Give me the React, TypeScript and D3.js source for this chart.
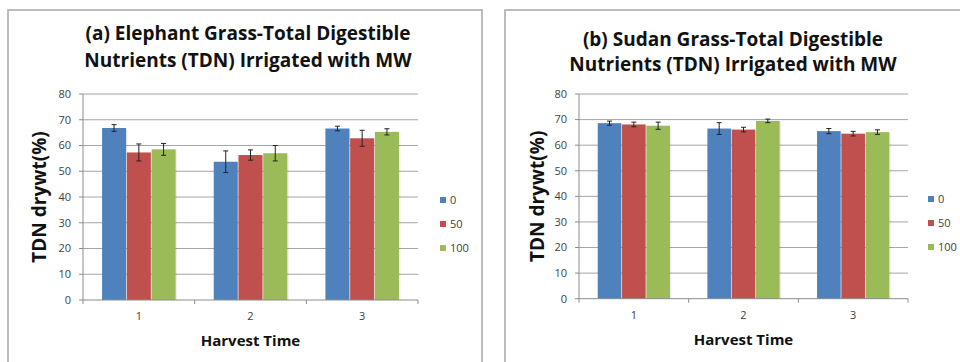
import React from "react";
import * as d3 from "d3";

const harvests = ["1", "2", "3"];
const treatments = ["0", "50", "100"];
const yTicks = [0, 10, 20, 30, 40, 50, 60, 70, 80];
const colors = ["#4F81BD", "#C0504D", "#9BBB59"];

// means per treatment (0, 50, 100) for harvests 1..3
const elephantMean = [
  [66.8, 53.7, 66.6],
  [57.3, 56.3, 62.8],
  [58.5, 57.0, 65.3],
];
const elephantErr = [
  [1.3, 4.2, 0.9],
  [3.3, 2.0, 3.1],
  [2.3, 3.0, 1.2],
];
const sudanMean = [
  [68.6, 66.5, 65.5],
  [68.1, 66.1, 64.5],
  [67.6, 69.5, 65.1],
];
const sudanErr = [
  [0.8, 2.3, 1.0],
  [0.9, 0.9, 0.9],
  [1.4, 0.7, 0.9],
];

const FONT = "'Open Sans', sans-serif";

type PanelProps = {
  frame: [number, number, number];
  plot: { x0: number; x1: number; y0: number; y1: number };
  title: [string, string];
  titleX: number;
  titleY: [number, number];
  yLabelX: number;
  legendX: number;
  legendY: number;
  means: number[][];
  errs: number[][];
};

const Panel = ({ frame, plot, title, titleX, titleY, yLabelX, legendX, legendY, means, errs }: PanelProps) => {
  const x = d3.scaleBand().domain(harvests).range([plot.x0, plot.x1]).paddingInner(0).paddingOuter(0);
  const inner = d3.scaleBand().domain(treatments).range([0, x.bandwidth()]).paddingOuter(0.77).paddingInner(0.03);
  const y = d3.scaleLinear().domain([0, 80]).range([plot.y1, plot.y0]);
  const cap = 2.5;

  return (
    <g>
      <rect x={frame[0]} y={10} width={frame[1] - frame[0]} height={frame[2]} fill="#fff" stroke="#a6a6a6" strokeWidth={1.5} />
      <text x={titleX} y={titleY[0]} textAnchor="middle" fontFamily={FONT} fontWeight="bold" fontSize={19} fill="#111">
        {title[0]}
      </text>
      <text x={titleX} y={titleY[1]} textAnchor="middle" fontFamily={FONT} fontWeight="bold" fontSize={19} fill="#111">
        {title[1]}
      </text>
      {yTicks.map((t) => (
        <g key={t}>
          {t > 0 && <line x1={plot.x0} x2={plot.x1} y1={y(t)} y2={y(t)} stroke="#a6a6a6" strokeWidth={1} />}
          <line x1={plot.x0 - 4} x2={plot.x0} y1={y(t)} y2={y(t)} stroke="#8c8c8c" strokeWidth={1} />
          <text x={plot.x0 - 12} y={y(t)} dy="0.35em" textAnchor="end" fontFamily={FONT} fontSize={11} fill="#404040">
            {t}
          </text>
        </g>
      ))}
      {harvests.map((h, i) => (
        <g key={h}>
          {treatments.map((tr, s) => {
            const v = means[s][i];
            const e = errs[s][i];
            const bx = (x(h) as number) + (inner(tr) as number);
            const cx = bx + inner.bandwidth() / 2;
            return (
              <g key={tr}>
                <rect x={bx + 1.5} y={y(v) + 1} width={inner.bandwidth()} height={y(0) - y(v) - 1} fill="#000" opacity={0.07} />
                <rect x={bx} y={y(v)} width={inner.bandwidth()} height={y(0) - y(v)} fill={colors[s]} />
                <line x1={cx} x2={cx} y1={y(v + e)} y2={y(v - e)} stroke="#222" strokeWidth={1} />
                <line x1={cx - cap} x2={cx + cap} y1={y(v + e)} y2={y(v + e)} stroke="#222" strokeWidth={1} />
                <line x1={cx - cap} x2={cx + cap} y1={y(v - e)} y2={y(v - e)} stroke="#222" strokeWidth={1} />
              </g>
            );
          })}
          <text x={(x(h) as number) + x.bandwidth() / 2} y={plot.y1 + 20} textAnchor="middle" fontFamily={FONT} fontSize={11} fill="#404040">
            {h}
          </text>
        </g>
      ))}
      <line x1={plot.x0} x2={plot.x0} y1={plot.y0} y2={plot.y1} stroke="#8c8c8c" strokeWidth={1} />
      <line x1={plot.x0} x2={plot.x1} y1={plot.y1} y2={plot.y1} stroke="#8c8c8c" strokeWidth={1} />
      {[...harvests.map((h) => x(h) as number), plot.x1].map((tx, i) => (
        <line key={i} x1={tx} x2={tx} y1={plot.y1} y2={plot.y1 + 4} stroke="#8c8c8c" strokeWidth={1} />
      ))}
      <text
        x={(plot.x0 + plot.x1) / 2}
        y={plot.y1 + 46}
        textAnchor="middle"
        fontFamily={FONT}
        fontWeight="bold"
        fontSize={15}
        fill="#111"
      >
        Harvest Time
      </text>
      <text
        transform={`translate(${yLabelX},${(plot.y0 + plot.y1) / 2}) rotate(-90)`}
        textAnchor="middle"
        dy="0.35em"
        fontFamily={FONT}
        fontWeight="bold"
        fontSize={19}
        fill="#111"
      >
        TDN drywt(%)
      </text>
      {treatments.map((tr, s) => (
        <g key={tr} transform={`translate(${legendX},${legendY + s * 24})`}>
          <rect x={0} y={-3} width={6} height={6} fill={colors[s]} />
          <text x={10} y={0} dy="0.35em" fontFamily={FONT} fontSize={11} fill="#404040">
            {tr}
          </text>
        </g>
      ))}
    </g>
  );
};

export default function App() {
  return (
    <svg width={960} height={362} style={{ position: "absolute", left: 0, top: 0 }}>
      <rect width={960} height={362} fill="#fff" />
      <Panel
        frame={[8, 482, 360]}
        plot={{ x0: 83, x1: 418, y0: 94, y1: 300 }}
        title={["(a) Elephant Grass-Total Digestible", "Nutrients (TDN) Irrigated with MW"]}
        titleX={248}
        titleY={[40, 67]}
        yLabelX={39}
        legendX={440}
        legendY={200}
        means={elephantMean}
        errs={elephantErr}
      />
      <Panel
        frame={[505, 962, 360]}
        plot={{ x0: 579, x1: 908, y0: 94, y1: 298.7 }}
        title={["(b) Sudan Grass-Total Digestible", "Nutrients (TDN) Irrigated with MW"]}
        titleX={733}
        titleY={[46, 71]}
        yLabelX={537}
        legendX={928}
        legendY={199}
        means={sudanMean}
        errs={sudanErr}
      />
    </svg>
  );
}
